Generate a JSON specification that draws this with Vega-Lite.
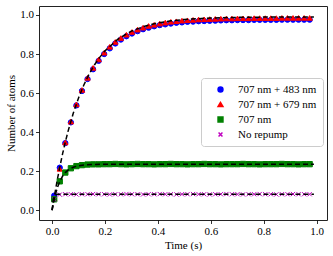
{
  "$schema": "https://vega.github.io/schema/vega-lite/v6.json",
  "width": 288,
  "height": 214,
  "autosize": {"type": "none"},
  "padding": {"left": 39, "top": 6, "right": 6, "bottom": 36},
  "background": "white",
  "config": {
    "font": "Liberation Serif",
    "view": {"stroke": "#222", "strokeWidth": 1},
    "axis": {
      "grid": false, "domain": false, "tickColor": "#000", "tickSize": 3.5, "tickWidth": 0.8,
      "labelFont": "Liberation Serif", "labelFontSize": 11, "labelColor": "#000",
      "titleFont": "Liberation Serif", "titleFontSize": 11, "titleFontWeight": "normal", "titleColor": "#000"
    },
    "legend": {
      "labelFont": "Liberation Serif", "labelFontSize": 11, "labelColor": "#000"
    }
  },
  "datasets": {
    "pts": [
      {"t":0.008,"y":0.075,"s":"707 nm + 483 nm"},{"t":0.029,"y":0.218,"s":"707 nm + 483 nm"},{"t":0.050,"y":0.344,"s":"707 nm + 483 nm"},{"t":0.071,"y":0.450,"s":"707 nm + 483 nm"},{"t":0.092,"y":0.537,"s":"707 nm + 483 nm"},{"t":0.113,"y":0.611,"s":"707 nm + 483 nm"},{"t":0.134,"y":0.672,"s":"707 nm + 483 nm"},{"t":0.155,"y":0.722,"s":"707 nm + 483 nm"},{"t":0.176,"y":0.765,"s":"707 nm + 483 nm"},{"t":0.197,"y":0.800,"s":"707 nm + 483 nm"},{"t":0.218,"y":0.829,"s":"707 nm + 483 nm"},{"t":0.239,"y":0.854,"s":"707 nm + 483 nm"},{"t":0.260,"y":0.874,"s":"707 nm + 483 nm"},{"t":0.281,"y":0.891,"s":"707 nm + 483 nm"},{"t":0.302,"y":0.905,"s":"707 nm + 483 nm"},{"t":0.323,"y":0.917,"s":"707 nm + 483 nm"},{"t":0.344,"y":0.927,"s":"707 nm + 483 nm"},{"t":0.365,"y":0.935,"s":"707 nm + 483 nm"},{"t":0.386,"y":0.942,"s":"707 nm + 483 nm"},{"t":0.407,"y":0.948,"s":"707 nm + 483 nm"},{"t":0.428,"y":0.952,"s":"707 nm + 483 nm"},{"t":0.449,"y":0.956,"s":"707 nm + 483 nm"},{"t":0.470,"y":0.960,"s":"707 nm + 483 nm"},{"t":0.491,"y":0.962,"s":"707 nm + 483 nm"},{"t":0.512,"y":0.965,"s":"707 nm + 483 nm"},{"t":0.533,"y":0.966,"s":"707 nm + 483 nm"},{"t":0.554,"y":0.968,"s":"707 nm + 483 nm"},{"t":0.575,"y":0.969,"s":"707 nm + 483 nm"},{"t":0.596,"y":0.970,"s":"707 nm + 483 nm"},{"t":0.617,"y":0.971,"s":"707 nm + 483 nm"},{"t":0.638,"y":0.972,"s":"707 nm + 483 nm"},{"t":0.659,"y":0.973,"s":"707 nm + 483 nm"},{"t":0.680,"y":0.973,"s":"707 nm + 483 nm"},{"t":0.701,"y":0.974,"s":"707 nm + 483 nm"},{"t":0.722,"y":0.974,"s":"707 nm + 483 nm"},{"t":0.743,"y":0.974,"s":"707 nm + 483 nm"},{"t":0.764,"y":0.975,"s":"707 nm + 483 nm"},{"t":0.785,"y":0.975,"s":"707 nm + 483 nm"},{"t":0.806,"y":0.975,"s":"707 nm + 483 nm"},{"t":0.827,"y":0.975,"s":"707 nm + 483 nm"},{"t":0.848,"y":0.975,"s":"707 nm + 483 nm"},{"t":0.869,"y":0.976,"s":"707 nm + 483 nm"},{"t":0.890,"y":0.976,"s":"707 nm + 483 nm"},{"t":0.911,"y":0.976,"s":"707 nm + 483 nm"},{"t":0.932,"y":0.976,"s":"707 nm + 483 nm"},{"t":0.953,"y":0.976,"s":"707 nm + 483 nm"},{"t":0.974,"y":0.976,"s":"707 nm + 483 nm"},
      {"t":0.008,"y":0.062,"s":"707 nm + 679 nm"},{"t":0.029,"y":0.212,"s":"707 nm + 679 nm"},{"t":0.050,"y":0.347,"s":"707 nm + 679 nm"},{"t":0.071,"y":0.454,"s":"707 nm + 679 nm"},{"t":0.092,"y":0.542,"s":"707 nm + 679 nm"},{"t":0.113,"y":0.616,"s":"707 nm + 679 nm"},{"t":0.134,"y":0.678,"s":"707 nm + 679 nm"},{"t":0.155,"y":0.729,"s":"707 nm + 679 nm"},{"t":0.176,"y":0.772,"s":"707 nm + 679 nm"},{"t":0.197,"y":0.807,"s":"707 nm + 679 nm"},{"t":0.218,"y":0.837,"s":"707 nm + 679 nm"},{"t":0.239,"y":0.862,"s":"707 nm + 679 nm"},{"t":0.260,"y":0.882,"s":"707 nm + 679 nm"},{"t":0.281,"y":0.899,"s":"707 nm + 679 nm"},{"t":0.302,"y":0.913,"s":"707 nm + 679 nm"},{"t":0.323,"y":0.925,"s":"707 nm + 679 nm"},{"t":0.344,"y":0.935,"s":"707 nm + 679 nm"},{"t":0.365,"y":0.944,"s":"707 nm + 679 nm"},{"t":0.386,"y":0.950,"s":"707 nm + 679 nm"},{"t":0.407,"y":0.956,"s":"707 nm + 679 nm"},{"t":0.428,"y":0.961,"s":"707 nm + 679 nm"},{"t":0.449,"y":0.965,"s":"707 nm + 679 nm"},{"t":0.470,"y":0.968,"s":"707 nm + 679 nm"},{"t":0.491,"y":0.971,"s":"707 nm + 679 nm"},{"t":0.512,"y":0.973,"s":"707 nm + 679 nm"},{"t":0.533,"y":0.975,"s":"707 nm + 679 nm"},{"t":0.554,"y":0.977,"s":"707 nm + 679 nm"},{"t":0.575,"y":0.978,"s":"707 nm + 679 nm"},{"t":0.596,"y":0.979,"s":"707 nm + 679 nm"},{"t":0.617,"y":0.980,"s":"707 nm + 679 nm"},{"t":0.638,"y":0.981,"s":"707 nm + 679 nm"},{"t":0.659,"y":0.982,"s":"707 nm + 679 nm"},{"t":0.680,"y":0.982,"s":"707 nm + 679 nm"},{"t":0.701,"y":0.983,"s":"707 nm + 679 nm"},{"t":0.722,"y":0.983,"s":"707 nm + 679 nm"},{"t":0.743,"y":0.983,"s":"707 nm + 679 nm"},{"t":0.764,"y":0.984,"s":"707 nm + 679 nm"},{"t":0.785,"y":0.984,"s":"707 nm + 679 nm"},{"t":0.806,"y":0.984,"s":"707 nm + 679 nm"},{"t":0.827,"y":0.984,"s":"707 nm + 679 nm"},{"t":0.848,"y":0.984,"s":"707 nm + 679 nm"},{"t":0.869,"y":0.985,"s":"707 nm + 679 nm"},{"t":0.890,"y":0.985,"s":"707 nm + 679 nm"},{"t":0.911,"y":0.985,"s":"707 nm + 679 nm"},{"t":0.932,"y":0.985,"s":"707 nm + 679 nm"},{"t":0.953,"y":0.985,"s":"707 nm + 679 nm"},{"t":0.974,"y":0.985,"s":"707 nm + 679 nm"},
      {"t":0.008,"y":0.056,"s":"707 nm"},{"t":0.029,"y":0.148,"s":"707 nm"},{"t":0.050,"y":0.193,"s":"707 nm"},{"t":0.071,"y":0.215,"s":"707 nm"},{"t":0.092,"y":0.226,"s":"707 nm"},{"t":0.113,"y":0.231,"s":"707 nm"},{"t":0.134,"y":0.234,"s":"707 nm"},{"t":0.155,"y":0.235,"s":"707 nm"},{"t":0.176,"y":0.235,"s":"707 nm"},{"t":0.197,"y":0.236,"s":"707 nm"},{"t":0.218,"y":0.236,"s":"707 nm"},{"t":0.239,"y":0.237,"s":"707 nm"},{"t":0.260,"y":0.236,"s":"707 nm"},{"t":0.281,"y":0.235,"s":"707 nm"},{"t":0.302,"y":0.236,"s":"707 nm"},{"t":0.323,"y":0.237,"s":"707 nm"},{"t":0.344,"y":0.236,"s":"707 nm"},{"t":0.365,"y":0.236,"s":"707 nm"},{"t":0.386,"y":0.235,"s":"707 nm"},{"t":0.407,"y":0.236,"s":"707 nm"},{"t":0.428,"y":0.236,"s":"707 nm"},{"t":0.449,"y":0.237,"s":"707 nm"},{"t":0.470,"y":0.236,"s":"707 nm"},{"t":0.491,"y":0.236,"s":"707 nm"},{"t":0.512,"y":0.235,"s":"707 nm"},{"t":0.533,"y":0.236,"s":"707 nm"},{"t":0.554,"y":0.236,"s":"707 nm"},{"t":0.575,"y":0.237,"s":"707 nm"},{"t":0.596,"y":0.236,"s":"707 nm"},{"t":0.617,"y":0.236,"s":"707 nm"},{"t":0.638,"y":0.235,"s":"707 nm"},{"t":0.659,"y":0.236,"s":"707 nm"},{"t":0.680,"y":0.236,"s":"707 nm"},{"t":0.701,"y":0.236,"s":"707 nm"},{"t":0.722,"y":0.237,"s":"707 nm"},{"t":0.743,"y":0.236,"s":"707 nm"},{"t":0.764,"y":0.236,"s":"707 nm"},{"t":0.785,"y":0.235,"s":"707 nm"},{"t":0.806,"y":0.236,"s":"707 nm"},{"t":0.827,"y":0.236,"s":"707 nm"},{"t":0.848,"y":0.236,"s":"707 nm"},{"t":0.869,"y":0.237,"s":"707 nm"},{"t":0.890,"y":0.236,"s":"707 nm"},{"t":0.911,"y":0.236,"s":"707 nm"},{"t":0.932,"y":0.235,"s":"707 nm"},{"t":0.953,"y":0.236,"s":"707 nm"},{"t":0.974,"y":0.236,"s":"707 nm"},
      {"t":0.008,"y":0.055,"s":"No repump"},{"t":0.029,"y":0.080,"s":"No repump"},{"t":0.050,"y":0.082,"s":"No repump"},{"t":0.071,"y":0.082,"s":"No repump"},{"t":0.092,"y":0.081,"s":"No repump"},{"t":0.113,"y":0.082,"s":"No repump"},{"t":0.134,"y":0.082,"s":"No repump"},{"t":0.155,"y":0.083,"s":"No repump"},{"t":0.176,"y":0.082,"s":"No repump"},{"t":0.197,"y":0.082,"s":"No repump"},{"t":0.218,"y":0.081,"s":"No repump"},{"t":0.239,"y":0.082,"s":"No repump"},{"t":0.260,"y":0.082,"s":"No repump"},{"t":0.281,"y":0.083,"s":"No repump"},{"t":0.302,"y":0.082,"s":"No repump"},{"t":0.323,"y":0.082,"s":"No repump"},{"t":0.344,"y":0.081,"s":"No repump"},{"t":0.365,"y":0.082,"s":"No repump"},{"t":0.386,"y":0.082,"s":"No repump"},{"t":0.407,"y":0.083,"s":"No repump"},{"t":0.428,"y":0.082,"s":"No repump"},{"t":0.449,"y":0.082,"s":"No repump"},{"t":0.470,"y":0.081,"s":"No repump"},{"t":0.491,"y":0.082,"s":"No repump"},{"t":0.512,"y":0.082,"s":"No repump"},{"t":0.533,"y":0.083,"s":"No repump"},{"t":0.554,"y":0.082,"s":"No repump"},{"t":0.575,"y":0.082,"s":"No repump"},{"t":0.596,"y":0.081,"s":"No repump"},{"t":0.617,"y":0.082,"s":"No repump"},{"t":0.638,"y":0.082,"s":"No repump"},{"t":0.659,"y":0.083,"s":"No repump"},{"t":0.680,"y":0.082,"s":"No repump"},{"t":0.701,"y":0.082,"s":"No repump"},{"t":0.722,"y":0.081,"s":"No repump"},{"t":0.743,"y":0.082,"s":"No repump"},{"t":0.764,"y":0.082,"s":"No repump"},{"t":0.785,"y":0.083,"s":"No repump"},{"t":0.806,"y":0.082,"s":"No repump"},{"t":0.827,"y":0.082,"s":"No repump"},{"t":0.848,"y":0.081,"s":"No repump"},{"t":0.869,"y":0.082,"s":"No repump"},{"t":0.890,"y":0.082,"s":"No repump"},{"t":0.911,"y":0.083,"s":"No repump"},{"t":0.932,"y":0.082,"s":"No repump"},{"t":0.953,"y":0.082,"s":"No repump"},{"t":0.974,"y":0.082,"s":"No repump"}
    ],
    "fits": [
      {"t":0,"y":0,"f":"a"},{"t":0.01,"y":0.0825,"f":"a"},{"t":0.02,"y":0.158,"f":"a"},{"t":0.03,"y":0.2273,"f":"a"},{"t":0.04,"y":0.2909,"f":"a"},{"t":0.05,"y":0.3491,"f":"a"},{"t":0.06,"y":0.4024,"f":"a"},{"t":0.08,"y":0.4963,"f":"a"},{"t":0.10,"y":0.5751,"f":"a"},{"t":0.12,"y":0.6413,"f":"a"},{"t":0.14,"y":0.697,"f":"a"},{"t":0.16,"y":0.7438,"f":"a"},{"t":0.18,"y":0.7831,"f":"a"},{"t":0.20,"y":0.8161,"f":"a"},{"t":0.25,"y":0.8774,"f":"a"},{"t":0.30,"y":0.9171,"f":"a"},{"t":0.35,"y":0.9428,"f":"a"},{"t":0.40,"y":0.9594,"f":"a"},{"t":0.45,"y":0.9702,"f":"a"},{"t":0.50,"y":0.9772,"f":"a"},{"t":0.60,"y":0.9846,"f":"a"},{"t":0.70,"y":0.9878,"f":"a"},{"t":0.80,"y":0.9891,"f":"a"},{"t":0.99,"y":0.9899,"f":"a"},
      {"t":0,"y":0,"f":"b"},{"t":0.005,"y":0.0368,"f":"b"},{"t":0.01,"y":0.0678,"f":"b"},{"t":0.02,"y":0.1162,"f":"b"},{"t":0.03,"y":0.1506,"f":"b"},{"t":0.04,"y":0.1752,"f":"b"},{"t":0.05,"y":0.1927,"f":"b"},{"t":0.06,"y":0.2051,"f":"b"},{"t":0.08,"y":0.2203,"f":"b"},{"t":0.10,"y":0.228,"f":"b"},{"t":0.12,"y":0.232,"f":"b"},{"t":0.15,"y":0.2345,"f":"b"},{"t":0.20,"y":0.2357,"f":"b"},{"t":0.99,"y":0.236,"f":"b"},
      {"t":0,"y":0,"f":"c"},{"t":0.005,"y":0.0585,"f":"c"},{"t":0.01,"y":0.0753,"f":"c"},{"t":0.02,"y":0.0814,"f":"c"},{"t":0.03,"y":0.082,"f":"c"},{"t":0.99,"y":0.082,"f":"c"}
    ]
  },
  "layer": [
    {
      "data": {"name": "pts"},
      "mark": {"type": "point", "filled": true, "size": 28, "strokeWidth": 1, "opacity": 1},
      "encoding": {
        "x": {"field": "t", "type": "quantitative", "scale": {"domain": [-0.0495, 1.0395], "nice": false, "zero": false}, "axis": {"values": [0, 0.2, 0.4, 0.6, 0.8, 1.0], "format": ".1f", "title": "Time (s)", "titlePadding": 3}},
        "y": {"field": "y", "type": "quantitative", "scale": {"domain": [-0.05, 1.046], "nice": false, "zero": false}, "axis": {"values": [0, 0.2, 0.4, 0.6, 0.8, 1.0], "format": ".1f", "title": "Number of atoms", "titlePadding": 3}},
        "fill": {"field": "s", "type": "nominal", "scale": {"domain": ["707 nm + 483 nm", "707 nm + 679 nm", "707 nm", "No repump"], "range": ["#0000ff", "#ff0000", "#008000", "#bf00bf"]}, "legend": {"title": null, "orient": "none", "legendX": 162, "legendY": 72, "fillColor": "white", "strokeColor": "#cccccc", "cornerRadius": 3, "padding": 6, "symbolOffset": 8, "labelOffset": 12, "rowPadding": 3, "symbolSize": 24}},
        "stroke": {"field": "s", "type": "nominal", "scale": {"domain": ["707 nm + 483 nm", "707 nm + 679 nm", "707 nm", "No repump"], "range": ["#0000ff", "#ff0000", "#008000", "#bf00bf"]}},
        "shape": {"field": "s", "type": "nominal", "scale": {"domain": ["707 nm + 483 nm", "707 nm + 679 nm", "707 nm", "No repump"], "range": ["circle", "triangle-up", "square", "M-0.8,-0.8L0.8,0.8M0.8,-0.8L-0.8,0.8"]}}
      }
    },
    {
      "data": {"name": "fits"},
      "mark": {"type": "line", "color": "#000", "strokeWidth": 1.5, "strokeDash": [5, 3]},
      "encoding": {
        "x": {"field": "t", "type": "quantitative"},
        "y": {"field": "y", "type": "quantitative"},
        "detail": {"field": "f", "type": "nominal"}
      }
    }
  ]
}
